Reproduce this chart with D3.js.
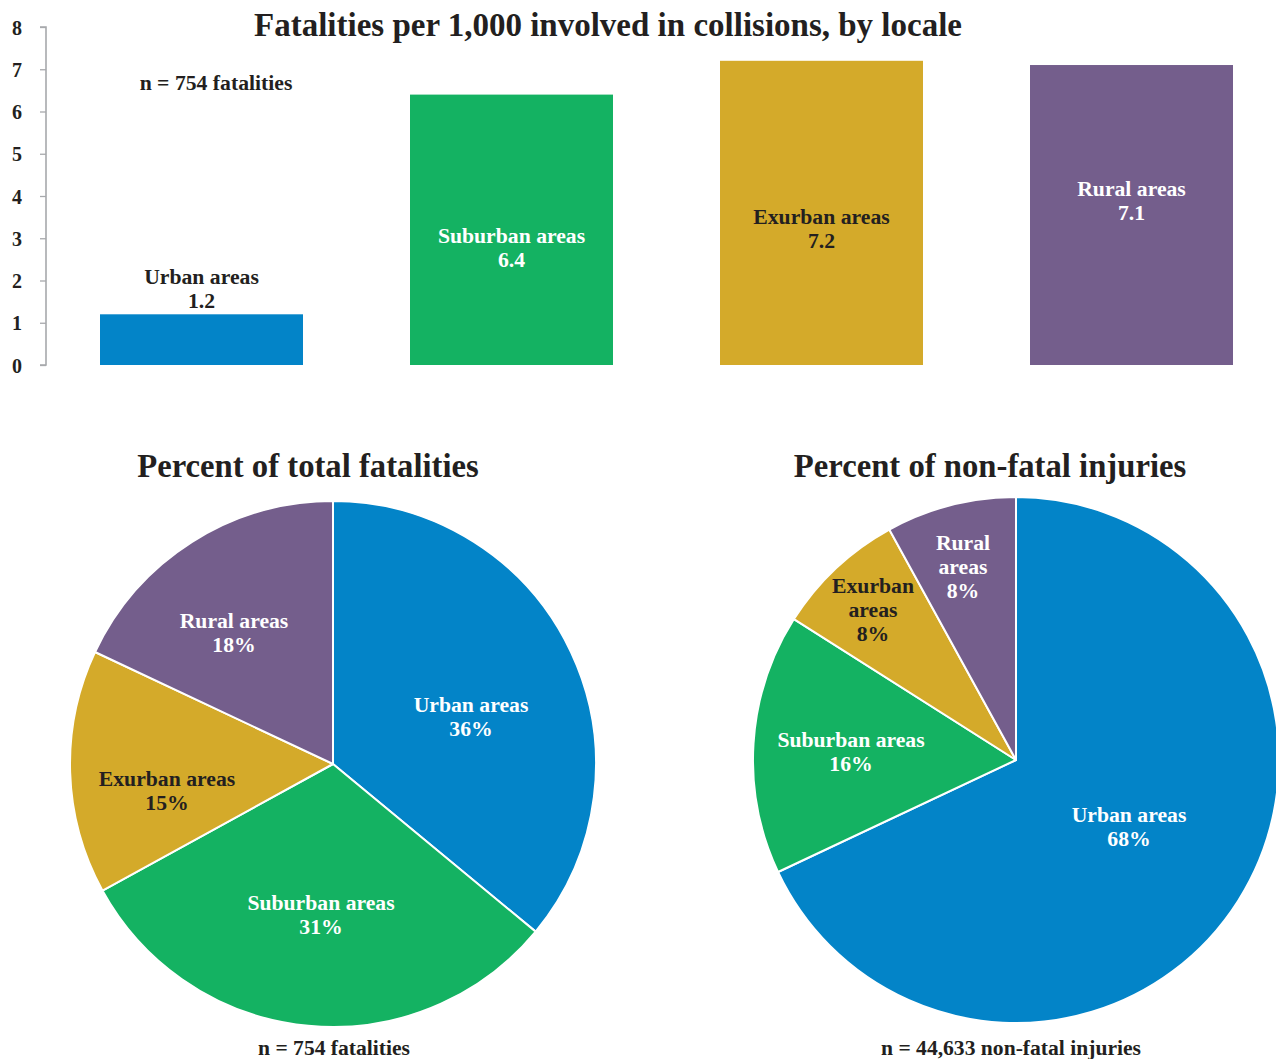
<!DOCTYPE html>
<html>
<head>
<meta charset="utf-8">
<script src="https://cdn.jsdelivr.net/npm/d3@7"></script>
<style>
  html, body { margin: 0; padding: 0; background: #fff; }
  svg { display: block; }
  text { font-family: "Liberation Serif", "DejaVu Serif", serif; font-weight: bold; }
</style>
</head>
<body>
<svg id="chart" width="1276" height="1059"></svg>
<script>
// Locale categories shared by all three panels
const locales = ["Urban areas", "Suburban areas", "Exurban areas", "Rural areas"];
const localeColors = ["#0384c8", "#14b262", "#d4aa2a", "#745e8c"];
const barLabelInk = ["#231f20", "#ffffff", "#231f20", "#ffffff"];
const pieLabelInk = ["#ffffff", "#ffffff", "#231f20", "#ffffff"];

// Fatalities per 1,000 involved in collisions
const fatalityRates = [1.2, 6.4, 7.2, 7.1];
const rateTicks = [0, 1, 2, 3, 4, 5, 6, 7, 8];

// Share of total fatalities (%)
const fatalityShare = [36, 31, 15, 18];
// Share of non-fatal injuries (%)
const injuryShare = [68, 16, 8, 8];

const svg = d3.select("#chart");
const ink = "#231f20";

// ---------- Bar chart ----------
const y = d3.scaleLinear().domain([0, 8]).range([365, 27]);
const x = d3.scaleBand().domain(locales).range([46.5, 1286.5])
  .paddingInner(107 / 310).paddingOuter(107 / 620);

const yAxis = d3.axisLeft(y).tickValues(rateTicks).tickSize(6).tickPadding(18)
  .tickFormat(d3.format("d"));
const ax = svg.append("g").attr("transform", "translate(46,0)").call(yAxis);
ax.select(".domain").attr("stroke", "#a7a9ac").attr("stroke-width", 1.6)
  .attr("d", `M-6,${y(8)}H0V${y(0)}H-6`);
ax.selectAll(".tick line").attr("stroke", "#a7a9ac").attr("stroke-width", 1.3);
ax.selectAll(".tick text").attr("font-size", 20).attr("fill", ink)
  .attr("font-family", "Liberation Serif, serif").attr("font-weight", "bold")
  .attr("dy", "0.35em");

svg.append("text").attr("x", 608).attr("y", 36).attr("text-anchor", "middle")
  .attr("font-size", 33).attr("fill", ink)
  .text("Fatalities per 1,000 involved in collisions, by locale");

svg.append("text").attr("x", 216).attr("y", 90).attr("text-anchor", "middle")
  .attr("font-size", 21.7).attr("fill", ink).text("n = 754 fatalities");

svg.append("g").selectAll("rect").data(fatalityRates).join("rect")
  .attr("x", (d, i) => x(locales[i]))
  .attr("y", d => y(d))
  .attr("width", x.bandwidth())
  .attr("height", d => y(0) - y(d))
  .attr("fill", (d, i) => localeColors[i]);

// Label baseline for each bar: the short urban bar carries its label above it
const barLabelTop = [284, 243, 224, 196];
const barLabels = svg.append("g").selectAll("text").data(fatalityRates).join("text")
  .attr("text-anchor", "middle")
  .attr("font-size", 21.7)
  .attr("fill", (d, i) => barLabelInk[i])
  .attr("x", (d, i) => x(locales[i]) + x.bandwidth() / 2)
  .attr("y", (d, i) => barLabelTop[i]);
barLabels.append("tspan").text((d, i) => locales[i]);
barLabels.append("tspan").attr("x", (d, i) => x(locales[i]) + x.bandwidth() / 2)
  .attr("dy", 24).text(d => d3.format(".1f")(d));

// ---------- Pie charts ----------
const pie = d3.pie().sort(null).value(d => d);
const arc = d3.arc().innerRadius(0).outerRadius(263);

function drawPie(cx, cy, values, title, titleX, note, noteX, labelSpots) {
  svg.append("text").attr("x", titleX).attr("y", 477).attr("text-anchor", "middle")
    .attr("font-size", 32.7).attr("fill", ink).text(title);

  const g = svg.append("g").attr("transform", `translate(${cx},${cy})`);
  g.selectAll("path").data(pie(values)).join("path")
    .attr("d", arc)
    .attr("fill", (d, i) => localeColors[i])
    .attr("stroke", "#ffffff").attr("stroke-width", 2).attr("stroke-linejoin", "round");

  const lbl = svg.append("g").selectAll("text").data(values).join("text")
    .attr("text-anchor", "middle").attr("font-size", 21.7)
    .attr("fill", (d, i) => pieLabelInk[i])
    .attr("x", (d, i) => labelSpots[i][0])
    .attr("y", (d, i) => labelSpots[i][1]);
  lbl.each(function (d, i) {
    const lines = labelSpots[i][2] ? locales[i].split(" ") : [locales[i]];
    lines.concat([d + "%"]).forEach((t, k) => {
      d3.select(this).append("tspan").attr("x", labelSpots[i][0])
        .attr("dy", k === 0 ? 0 : 24).text(t);
    });
  });

  svg.append("text").attr("x", noteX).attr("y", 1055).attr("text-anchor", "middle")
    .attr("font-size", 21.6).attr("fill", ink).text(note);
}

drawPie(333, 764, fatalityShare, "Percent of total fatalities", 308,
  "n = 754 fatalities", 334,
  [[471, 712, false], [321, 910, false], [167, 786, false], [234, 628, false]]);

drawPie(1016, 760, injuryShare, "Percent of non-fatal injuries", 990,
  "n = 44,633 non-fatal injuries", 1011,
  [[1129, 822, false], [851, 747, false], [873, 593, true], [963, 550, true]]);
</script>
</body>
</html>
